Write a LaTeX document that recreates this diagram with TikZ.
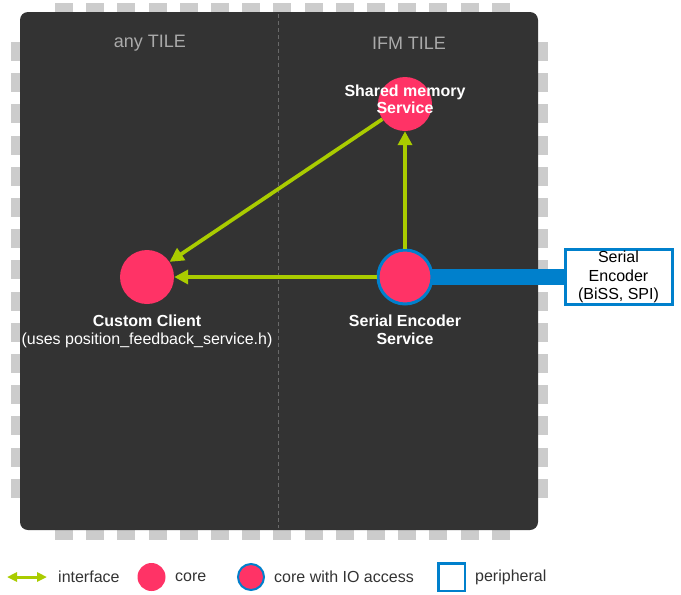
\documentclass[tikz,border=0pt]{standalone}
\usepackage{fontspec}
\setmainfont{Liberation Sans}
\usetikzlibrary{arrows.meta}
\definecolor{chipbg}{HTML}{333333}
\definecolor{pingray}{HTML}{CCCCCC}
\definecolor{corepink}{HTML}{FF3366}
\definecolor{iflime}{HTML}{AACC00}
\definecolor{ioblue}{HTML}{0080CC}
\definecolor{tilegray}{HTML}{AAAAAA}
\definecolor{legtext}{HTML}{333333}
\pgfdeclarelayer{chiplayer}
\pgfdeclarelayer{barlayer}
\pgfsetlayers{chiplayer,barlayer,main}
\tikzset{
  pin/.style={fill=pingray, draw=none},
  core/.style={circle, fill=corepink, draw=none, minimum size=54pt, inner sep=0pt},
  iocore/.style={circle, fill=corepink, draw=ioblue, line width=3pt, minimum size=54pt, inner sep=0pt},
  lbl/.style={text=white, align=center, font=\fontsize{16}{17.5}\selectfont},
  tilelbl/.style={text=tilegray, font=\fontsize{18}{20}\selectfont},
  iface/.style={draw=iflime, line width=3.7pt, -{Triangle[length=14pt,width=14pt]}},
  periph/.style={rectangle, draw=ioblue, line width=3pt, fill=white, align=center,
    minimum width=107pt, minimum height=55pt, inner sep=0pt, font=\fontsize{16}{18.5}\selectfont},
  legtxt/.style={anchor=west, text=legtext, font=\fontsize{16}{18}\selectfont, inner sep=0pt},
}
\begin{document}
\begin{tikzpicture}[x=1pt,y=-1pt]
\useasboundingbox (0,0) rectangle (681,595);
\begin{pgfonlayer}{chiplayer}
  % pins
  \foreach \k in {0,...,14} {
    \fill[pin] ({55+31.2*\k},3) rectangle ({73+31.2*\k},14);
    \fill[pin] ({55+31.2*\k},527) rectangle ({73+31.2*\k},540);
    \fill[pin] (11,{42+31.2*\k}) rectangle (22,{61+31.2*\k});
    \fill[pin] (536,{42+31.2*\k}) rectangle (548,{61+31.2*\k});
  }
  % chip body
  \fill[chipbg, rounded corners=8pt] (20,12) rectangle (538,530);
  \draw[draw=gray!70!chipbg, line width=1pt, dash pattern=on 4pt off 3pt] (278.5,14) -- (278.5,528);
\end{pgfonlayer}

\node[tilelbl] (anytile) at (150,43) {any TILE};
\node[tilelbl] (ifmtile) at (409,43) {IFM TILE};

\node[core] (sm) at (405,104) {};
\node[core] (cc) at (147,277) {};
\node[iocore] (ses) at (405,277) {};
\node[periph] (enc) at (618.5,277) {Serial\\Encoder\\(BiSS, SPI)};

\node[lbl, font=\bfseries\fontsize{16}{17.5}\selectfont] (smlbl) at (405,99.5) {Shared memory\\Service};
\node[lbl, font=\fontsize{16}{18}\selectfont] (cclbl) at (147,331) {\textbf{Custom Client}\\(uses position\_feedback\_service.h)};
\node[lbl, font=\bfseries\fontsize{16}{18}\selectfont] (seslbl) at (405,330) {Serial Encoder\\Service};

\begin{pgfonlayer}{barlayer}
  \draw[ioblue, line width=16pt] (ses.center) -- (enc.west);
\end{pgfonlayer}

\draw[iface] (ses.north) -- (sm.south);
\draw[iface] (sm) -- (cc);
\draw[iface] (ses.west) -- (cc.east);

% legend
\coordinate (la) at (7,577);
\coordinate (lb) at (47,577);
\draw[draw=iflime, line width=3pt, {Triangle[length=10pt,width=9pt]}-{Triangle[length=10pt,width=9pt]}] (la) -- (lb);
\node[legtxt] (lt1) at (58,577) {interface};
\node[core, minimum size=28pt] (lcore) at (151.5,577) {};
\node[legtxt] (lt2) at (175,577) {core};
\node[iocore, minimum size=26pt, line width=2pt] (lio) at (251,577) {};
\node[legtxt] (lt3) at (274,577) {core with IO access};
\node[rectangle, draw=ioblue, line width=2.5pt, fill=white, minimum width=26.5pt, minimum height=27.5pt, inner sep=0pt] (lper) at (451.5,577) {};
\node[legtxt] (lt4) at (475,577) {peripheral};
\end{tikzpicture}
\end{document}
